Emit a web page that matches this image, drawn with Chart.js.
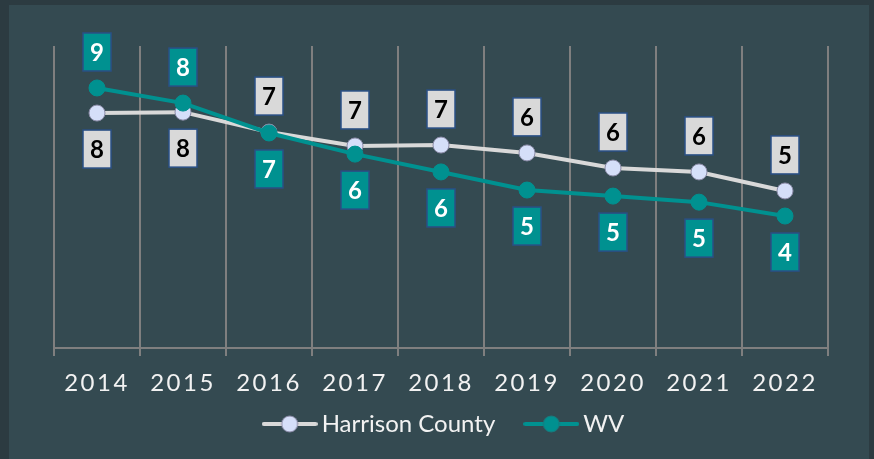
<!DOCTYPE html>
<html><head><meta charset="utf-8">
<script src="https://cdn.jsdelivr.net/npm/chart.js@4/dist/chart.umd.min.js"></script>
<style>
html,body{margin:0;padding:0;background:#2c3b41;width:874px;height:459px;overflow:hidden}
#wrap{position:absolute;left:9px;top:5px;width:860px;height:454px;background:#344a51}
canvas{display:block}
</style></head><body><div id="wrap"><canvas id="c" width="860" height="454"></canvas></div>
<script>
const years = ['2014','2015','2016','2017','2018','2019','2020','2021','2022'];
const harrison = [7.78, 7.81, 7.15, 6.69, 6.72, 6.46, 5.96, 5.83, 5.20];
const wv = [8.61, 8.11, 7.12, 6.42, 5.83, 5.23, 5.03, 4.83, 4.37];
const seriesNames = ['Harrison County', 'WV'];

const FONT = "Lato, Carlito, 'Liberation Sans', sans-serif";
const styles = [
  {line:'#d9d9d9', pt:'#d5dff9', ptBorder:'#8c8ca8', box:'#d9d9d9', text:'#000000'},
  {line:'#009190', pt:'#009190', ptBorder:'#1a7a7e', box:'#009190', text:'#ffffff'}
];

function legendIcon(s){
  const c = document.createElement('canvas');
  c.width = 56; c.height = 20;
  const x = c.getContext('2d');
  x.strokeStyle = s.line; x.lineWidth = 4; x.lineCap = 'round';
  x.beginPath(); x.moveTo(2,10); x.lineTo(54,10); x.stroke();
  x.fillStyle = s.pt; x.strokeStyle = s.ptBorder; x.lineWidth = 1;
  x.beginPath(); x.arc(28,10,8,0,Math.PI*2); x.fill(); x.stroke();
  return c;
}

const customDraw = {
  id:'customDraw',
  afterDatasetsDraw(chart){
    const ctx = chart.ctx;
    const vals = chart.data.datasets.map(d=>d.data);
    chart.data.datasets.forEach((ds,di)=>{
      const meta = chart.getDatasetMeta(di);
      const s = styles[di];
      meta.data.forEach((pt,i)=>{
        const v = ds.data[i];
        const other = vals[1-di][i];
        const above = v > other;
        const cx = pt.x, cy = pt.y + (above ? -36 : 36);
        const w = 28, h = 38;
        ctx.save();
        ctx.fillStyle = s.box;
        ctx.fillRect(cx-w/2, cy-h/2, w, h);
        ctx.strokeStyle = '#2a5086';
        ctx.lineWidth = 1.5;
        ctx.strokeRect(cx-w/2, cy-h/2, w, h);
        ctx.fillStyle = s.text;
        ctx.font = "bold 24px " + FONT;
        ctx.textAlign = 'center';
        ctx.textBaseline = 'middle';
        ctx.fillText(String(Math.round(v)), cx, cy+1);
        ctx.restore();
      });
    });
  },
  afterDraw(chart){
    const ctx = chart.ctx;
    const xs = chart.scales.x;
    ctx.save();
    ctx.fillStyle = '#f2f2f2';
    ctx.font = "24px " + FONT;
    ctx.textAlign = 'center';
    ctx.textBaseline = 'middle';
    try { ctx.letterSpacing = '2.5px'; } catch(e) {}
    chart.data.labels.forEach((lab,i)=>{
      ctx.fillText(lab, xs.getPixelForValue(i), chart.chartArea.bottom + 35);
    });
    try { ctx.letterSpacing = '0px'; } catch(e) {}
    // legend
    ctx.font = "24px " + FONT;
    ctx.textAlign = 'left';
    const names = chart.data.datasets.map(d=>d.label);
    const iconW = 56, gap = 4, itemGap = 28;
    const widths = names.map(n=>ctx.measureText(n).width);
    const total = names.length*(iconW+gap) + widths.reduce((a,b)=>a+b,0) + itemGap*(names.length-1);
    let x = (chart.chartArea.left + chart.chartArea.right)/2 + 2 - total/2;
    const y = chart.chartArea.bottom + 76;
    names.forEach((n,i)=>{
      ctx.drawImage(legendIcon(styles[i]), x, y-10);
      x += iconW + gap;
      ctx.fillText(n, x, y);
      x += widths[i] + itemGap;
    });
    ctx.restore();
  }
};

new Chart(document.getElementById('c'), {
  type:'line',
  data:{
    labels: years,
    datasets:[
      {label: seriesNames[0], data: harrison, borderColor: styles[0].line, borderWidth:4,
       pointRadius:8, pointBackgroundColor: styles[0].pt, pointBorderColor: styles[0].ptBorder, pointBorderWidth:1,
       tension:0, order:2},
      {label: seriesNames[1], data: wv, borderColor: styles[1].line, borderWidth:4,
       pointRadius:8, pointBackgroundColor: styles[1].pt, pointBorderColor: styles[1].pt, pointBorderWidth:1,
       tension:0, order:1}
    ]
  },
  options:{
    responsive:false,
    animation:false,
    devicePixelRatio:1,
    layout:{padding:{left:45, right:41, top:41, bottom:0}},
    plugins:{legend:{display:false}, tooltip:{enabled:false}},
    scales:{
      x:{
        offset:true,
        grid:{offset:true, color:'#7f7f7f', lineWidth:2, tickLength:8, drawTicks:true},
        border:{display:true, color:'#7f7f7f', width:2},
        ticks:{display:false},
        afterFit(scale){ scale.height = 111; }
      },
      y:{display:false, min:0, max:10}
    }
  },
  plugins:[customDraw]
});
</script></body></html>
